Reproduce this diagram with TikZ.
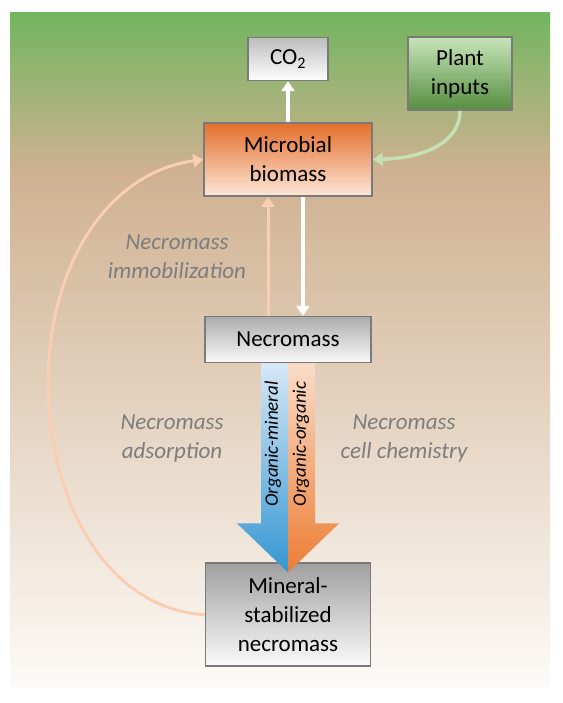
\documentclass[tikz,border=0pt]{standalone}
\usepackage{fontspec}
\setmainfont{Carlito}
\usepackage{xcolor}
\usetikzlibrary{arrows.meta,positioning,calc}

\definecolor{bgtop}{RGB}{114,181,94}
\definecolor{bgmid}{RGB}{207,177,145}
\definecolor{bgbot}{RGB}{253,250,247}
\definecolor{peach}{RGB}{249,206,178}
\definecolor{leaf}{RGB}{197,224,180}
\definecolor{rim}{RGB}{122,122,122}
\definecolor{note}{RGB}{125,125,125}
\definecolor{bluetop}{RGB}{214,232,246}
\definecolor{bluebot}{RGB}{52,150,210}
\definecolor{orangetop}{RGB}{250,220,200}
\definecolor{orangebot}{RGB}{236,125,52}

\begin{document}
\begin{tikzpicture}[x=1pt, y=-1pt,
    box/.style={rectangle, draw=rim, line width=1.6pt, align=center, inner sep=2pt,
        font=\fontsize{23}{29}\selectfont},
    arrow/.style={-{Triangle[length=10pt,width=13pt]}, line width=3.5pt},
    note/.style={align=center, text=note, font=\fontsize{23}{29}\selectfont\itshape},
    side/.style={rotate=90, font=\fontsize{19}{22}\selectfont\itshape}]

    % Background
    \fill[white] (0,0) rectangle (562,703);
    \useasboundingbox (0,0) rectangle (562,703);
    \shade[top color=bgtop, bottom color=bgmid] (10,13) rectangle (550,171);
    \shade[top color=bgmid, bottom color=bgbot] (10,170) rectangle (550,686);

    % Boxes
    \node[box, minimum width=168pt, minimum height=73pt,
        top color={rgb,255:red,228;green,110;blue,42}, bottom color={rgb,255:red,252;green,230;blue,216}]
        (micro) at (288,159.5) {Microbial\\biomass};
    \node[box, above=41pt of micro, minimum width=80pt, minimum height=43pt,
        top color={rgb,255:red,188;green,188;blue,188}, bottom color=white] (co2) {CO\textsubscript{2}};
    \node[box, minimum width=104pt, minimum height=73pt,
        top color={rgb,255:red,200;green,228;blue,186}, bottom color={rgb,255:red,86;green,142;blue,64}]
        (plant) at (460,73.5) {Plant\\inputs};
    \node[box, below=119pt of micro, minimum width=166pt, minimum height=46pt,
        top color={rgb,255:red,172;green,172;blue,172}, bottom color={rgb,255:red,250;green,250;blue,250}]
        (necro) {Necromass};
    \node[box, below=199pt of necro, minimum width=165pt, minimum height=103pt,
        top color={rgb,255:red,160;green,160;blue,160}, bottom color={rgb,255:red,250;green,250;blue,250}]
        (mineral) {Mineral-\\stabilized\\necromass};

    % Arrows
    \draw[arrow, white] (micro) -- (co2);
    \draw[arrow, leaf] (plant.south) .. controls (460,142) and (425,158) .. (micro.east);
    \draw[arrow, white] ($(micro.south)+(15,0)$) -- ($(necro.north)+(15,0)$);
    \draw[arrow, peach, line width=3pt] ($(necro.north)+(-20,0)$) -- ($(micro.south)+(-20,0)$);
    \draw[arrow, peach, line width=3pt] (mineral.west) .. controls (100,608) and (48,490) .. (48,385)
        .. controls (48,262) and (110,172) .. (micro.west);

    % Big arrow
    \coordinate (tip) at ($(mineral.north)+(0,10)$);
    \shade[top color=bluetop, bottom color=bluebot]
        ($(necro.south)+(-27,0)$) -- (necro.south) -- (tip) -- ($(tip)+(-51,-49)$) -- ($(tip)+(-27,-49)$) -- cycle;
    \shade[top color=orangetop, bottom color=orangebot]
        ($(necro.south)+(27,0)$) -- (necro.south) -- (tip) -- ($(tip)+(51,-49)$) -- ($(tip)+(27,-49)$) -- cycle;
    \node[side] (om) at (273,444) {Organic-mineral};
    \node[side] (oo) at (301,444) {Organic-organic};

    % Labels
    \node[note] (immob) at (177,257) {Necromass\\immobilization};
    \node[note] (adsorp) at (172,438) {Necromass\\adsorption};
    \node[note] (chem) at (404,438) {Necromass\\cell chemistry};

\end{tikzpicture}
\end{document}
